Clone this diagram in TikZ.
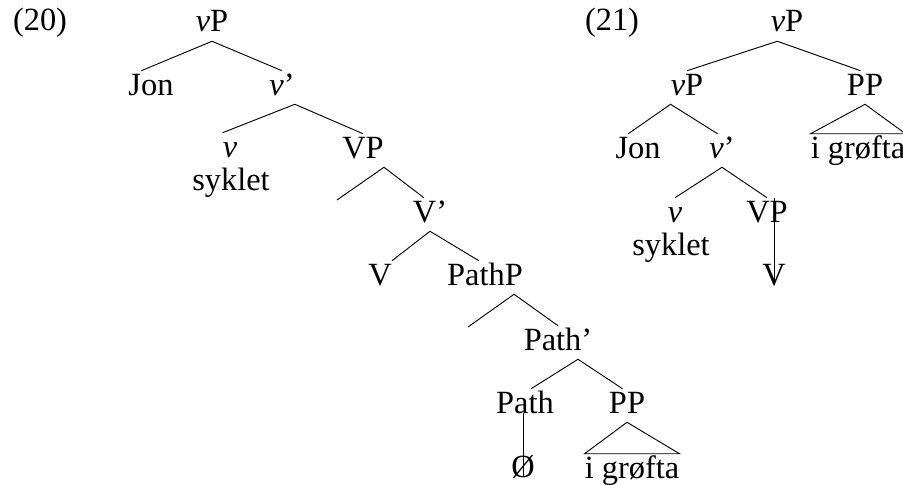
\documentclass[tikz,border=0pt]{standalone}
\usepackage{fontspec}
\setmainfont{Liberation Serif}
\usetikzlibrary{calc}
\tikzset{lbl/.style={anchor=base,inner sep=0pt,text height=18pt,text depth=6.75pt,font=\fontsize{24.3}{29}\selectfont}}
\tikzset{branch/.style={line width=0.7pt}}

\begin{document}
\begin{tikzpicture}[x=0.75pt,y=0.75pt,yscale=-1,xscale=1]
\useasboundingbox (0,0) rectangle (903,485);

%Example numbers
\node[lbl] (exA) at (40,31) {(20)};
\node[lbl] (exB) at (612,31) {(21)};

%Tree (20): labels
\node[lbl] (vPa) at (212,32) {\textit{v}P};
\node[lbl] (Jona) at (151,95) {Jon};
\node[lbl] (vbara) at (282,95) {\textit{v}’};
\node[lbl] (va) at (230,157) {\textit{v}};
\node[lbl] (syka) at (231,190) {syklet};
\node[lbl] (VPa) at (363,158) {VP};
\node[lbl] (Vbara) at (430,222) {V’};
\node[lbl] (Va) at (380,285) {V};
\node[lbl] (PathP) at (485,285) {PathP};
\node[lbl] (Pathbar) at (558,350) {Path’};
\node[lbl] (Path) at (525,413) {Path};
\node[lbl] (PPa) at (627,413) {PP};
\node[lbl] (nullP) at (523,477) {Ø};
\node[lbl] (groftaA) at (632,478) {i grøfta};
%free ends
\coordinate (VPleft) at (337,200);
\coordinate (PathPleft) at (468,327);

%Tree (20): branches
\draw[branch] (Jona.120) -- (vPa.south) -- (vbara.north);
\draw[branch] (va.north west) -- (vbara.south east) -- (VPa.north);
\draw[branch] (VPleft) -- (VPa.south east) -- (Vbara.110);
\draw[branch] (Va.north east) -- (Vbara.south) -- (PathP.110);
\draw[branch] (PathPleft) -- (PathP.-30) -- (Pathbar.north);
\draw[branch] (Path.70) -- (Pathbar.-40) -- (PPa.105);
\draw[branch] (nullP.base |- Path.base) -- (nullP.base);
\draw[branch] (PPa.south) -- (groftaA.north west) -- (groftaA.north east) -- cycle;

%Tree (21): labels
\node[lbl] (vPb) at (787,32) {\textit{v}P};
\node[lbl] (vPc) at (687,95) {\textit{v}P};
\node[lbl] (PPb) at (865,95) {PP};
\node[lbl] (Jonb) at (638,158) {Jon};
\node[lbl] (vbarb) at (722,158) {\textit{v}’};
\node[lbl] (groftaB) at (858,158) {i grøfta};
\node[lbl] (vb) at (675,222) {\textit{v}};
\node[lbl] (VPb) at (767,222) {VP};
\node[lbl] (sykb) at (671,255) {syklet};
\node[lbl] (Vb) at (774,285) {V};

%Tree (21): branches
\draw[branch] (vPc.north) -- (vPb.-120) -- (PPb.105);
\draw[branch] (Jonb.120) -- (vPc.south west) -- (vbarb.105);
\draw[branch] (PPb.south) -- (groftaB.north west) -- (groftaB.north east) -- cycle;
\draw[branch] (vb.north) -- (vbarb.south) -- (VPb.north);
\draw[branch] (Vb.base |- VPb.north) -- (Vb.base);
\end{tikzpicture}
\end{document}
